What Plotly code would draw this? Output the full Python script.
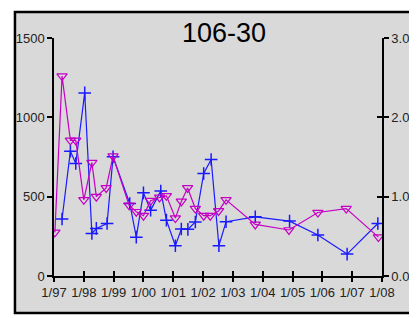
import plotly.graph_objects as go

# ---- data ----
blue_dates = [1997.27, 1997.55, 1997.73, 1998.03, 1998.27, 1998.42, 1998.78, 1998.98,
              1999.54, 1999.76, 2000.00, 2000.24, 2000.58, 2000.77, 2001.07, 2001.27,
              2001.49, 2001.74, 2002.02, 2002.27, 2002.53, 2002.77, 2003.75, 2004.90,
              2005.85, 2006.83, 2007.86]
blue_values = [359, 787, 709, 1154, 268, 300, 331, 751,
               457, 245, 524, 415, 535, 352, 191, 296,
               294, 340, 646, 734, 191, 342, 373, 346,
               258, 138, 331]

mag_dates = [1997.03, 1997.27, 1997.55, 1997.73, 1998.00, 1998.27, 1998.42, 1998.75,
             1998.98, 1999.52, 1999.76, 2000.00, 2000.24, 2000.54, 2000.77, 2001.07,
             2001.27, 2001.48, 2001.74, 2002.02, 2002.24, 2002.52, 2002.77, 2003.75,
             2004.88, 2005.85, 2006.80, 2007.88]
mag_values = [0.55, 2.52, 1.71, 1.71, 0.96, 1.43, 1.00, 1.11,
              1.51, 0.89, 0.81, 0.76, 0.95, 0.99, 1.01, 0.73,
              0.94, 1.11, 0.85, 0.76, 0.76, 0.82, 0.96, 0.65,
              0.58, 0.80, 0.85, 0.49]

x_tickvals = list(range(1997, 2009))
x_ticktext = ["1/97", "1/98", "1/99", "1/00", "1/01", "1/02", "1/03", "1/04",
              "1/05", "1/06", "1/07", "1/08"]
left_ticks = [0, 500, 1000, 1500]
right_ticks = [0, 1, 2, 3]
right_ticktext = ["0.00", "1.00", "2.00", "3.00"]
title_text = "106-30"

BLUE = "#1a1aff"
MAG = "#c400c4"
GRAY = "#d9d9d9"
FONT = "Liberation Sans Narrow, Liberation Sans, Arial, sans-serif"

fig = go.Figure()
fig.add_trace(go.Scatter(
    x=blue_dates, y=blue_values, mode="lines+markers",
    line=dict(color=BLUE, width=1.2),
    marker=dict(symbol="cross-thin-open", size=9, line=dict(color=BLUE, width=1.5)),
    xaxis="x", yaxis="y", showlegend=False))
fig.add_trace(go.Scatter(
    x=mag_dates, y=mag_values, mode="lines+markers",
    line=dict(color=MAG, width=1.2),
    marker=dict(symbol="triangle-down-open", size=9, line=dict(color=MAG, width=1.2)),
    xaxis="x", yaxis="y2", showlegend=False))

axfont = dict(family=FONT, size=13, color="#222222")
bx0, bx1, by0, by1 = -0.119, 1.107, -0.155, 1.109
fig.update_layout(
    template="none",
    width=409, height=310,
    margin=dict(l=46, r=35, t=30, b=42, autoexpand=False),
    paper_bgcolor="white",
    plot_bgcolor="rgba(0,0,0,0)",
    xaxis=dict(range=[1997, 2008], tickvals=x_tickvals, ticktext=x_ticktext, automargin=False,
               showgrid=False, zeroline=False, showline=True, linecolor="black", linewidth=1.5,
               ticks="outside", ticklen=4, tickcolor="black", tickwidth=1.5, tickfont=axfont),
    xaxis2=dict(range=[1997, 2008], tickvals=x_tickvals, showticklabels=False, automargin=False,
                overlaying="x", anchor="y", side="bottom",
                showgrid=False, zeroline=False, showline=False,
                ticks="inside", ticklen=5, tickcolor="black", tickwidth=1.5),
    yaxis=dict(range=[0, 1500], tickvals=left_ticks, showgrid=False, zeroline=False, automargin=False,
               showline=True, linecolor="black", linewidth=1.5,
               ticks="outside", ticklen=5, tickcolor="black", tickwidth=1.5, tickfont=axfont),
    yaxis2=dict(range=[0, 3], tickvals=right_ticks, ticktext=right_ticktext, automargin=False,
                overlaying="y", side="right", anchor="x",
                showgrid=False, zeroline=False, showline=True, linecolor="black", linewidth=1.5,
                ticks="outside", ticklen=5, tickcolor="black", tickwidth=1.5, tickfont=axfont),
    yaxis3=dict(range=[0, 3], tickvals=right_ticks, showticklabels=False, automargin=False,
                overlaying="y", side="right", anchor="x",
                showgrid=False, zeroline=False, showline=False,
                ticks="inside", ticklen=5, tickcolor="black", tickwidth=1.5),
    shapes=[
        dict(type="rect", xref="paper", yref="paper",
             x0=bx0, x1=bx1, y0=by0, y1=by1,
             line=dict(width=0), fillcolor=GRAY, layer="below"),
        dict(type="path", xref="paper", yref="paper",
             path=f"M {bx1},{by0} L {bx0},{by0} L {bx0},{by1} L {bx1},{by1}",
             line=dict(color="black", width=2.5), layer="below"),
    ],
    annotations=[dict(text=title_text, xref="paper", yref="paper", x=0.518, y=1.021,
                      xanchor="center", yanchor="middle", showarrow=False,
                      font=dict(family="Liberation Sans, Arial, sans-serif", size=27, color="black"))],
)
# dummy traces to activate overlay axes for crossing ticks
fig.add_trace(go.Scatter(x=[1997], y=[0], xaxis="x2", yaxis="y", mode="markers",
                         marker=dict(opacity=0), showlegend=False, hoverinfo="skip"))
fig.add_trace(go.Scatter(x=[1997], y=[0], xaxis="x", yaxis="y3", mode="markers",
                         marker=dict(opacity=0), showlegend=False, hoverinfo="skip"))

fig.write_html("out.html")
